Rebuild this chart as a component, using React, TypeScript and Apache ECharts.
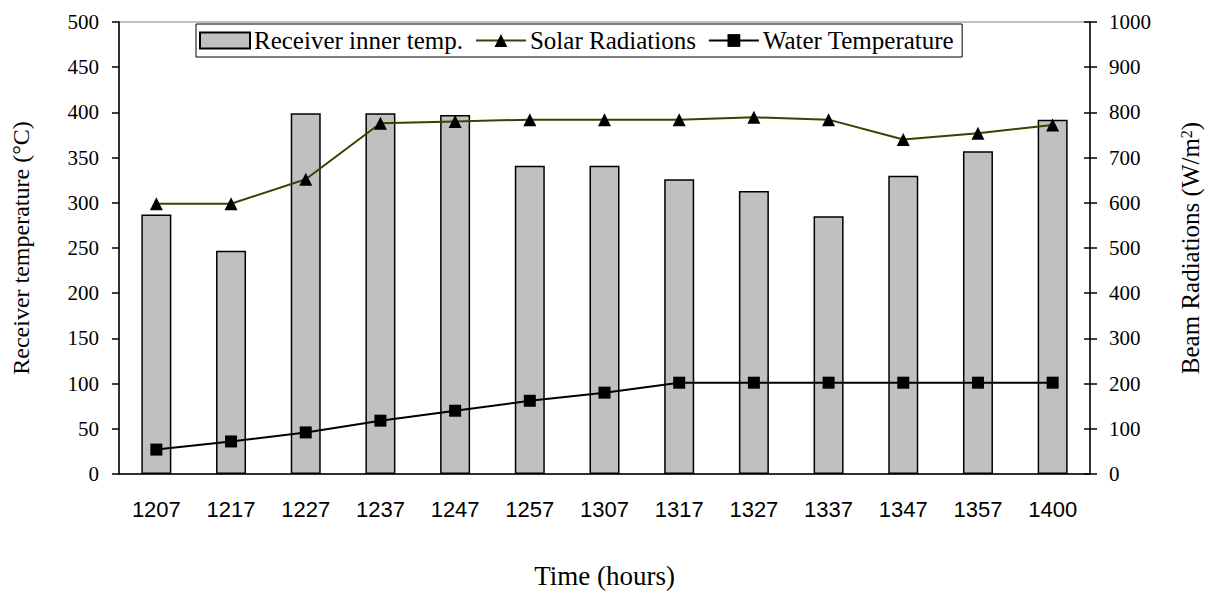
import React, { useEffect, useRef } from "react";
import * as echarts from "echarts";

const categories = ["1207", "1217", "1227", "1237", "1247", "1257", "1307", "1317", "1327", "1337", "1347", "1357", "1400"];
const receiverInnerTemp = [287, 247, 399, 399, 397, 341, 341, 326, 313, 285, 330, 357, 392];
const solarRadiations = [598, 598, 652, 776, 780, 784, 784, 784, 789, 784, 740, 754, 772];
const waterTemperature = [27, 36, 46, 59, 70, 81, 90, 101, 101, 101, 101, 101, 101];

const SERIF = "'Liberation Serif', 'Times New Roman', serif";
const SANS = "'Liberation Sans', Arial, sans-serif";

export default function App() {
  const ref = useRef<HTMLDivElement>(null);
  useEffect(() => {
    if (!ref.current) return;
    const chart = echarts.init(ref.current, null, { renderer: "svg" });
    chart.setOption({
      animation: false,
      backgroundColor: "#fff",
      grid: { left: 119, right: 124, top: 22, bottom: 118, show: true, borderColor: "#808080", borderWidth: 1 },
      legend: {
        left: 196,
        top: 24,
        backgroundColor: "#fff",
        borderColor: "#000",
        borderWidth: 1,
        padding: [4, 8, 4, 3],
        itemGap: 12,
        itemWidth: 50,
        itemHeight: 16,
        textStyle: { fontFamily: SERIF, fontSize: 25, color: "#000", padding: [0, 0, 0, -1] },
        data: [
          { name: "Receiver inner temp.", icon: "rect" },
          { name: "Solar Radiations" },
          { name: "Water Temperature" },
        ],
      },
      xAxis: {
        type: "category",
        data: categories,
        name: "Time (hours)",
        nameLocation: "middle",
        nameGap: 88,
        nameTextStyle: { fontFamily: SERIF, fontSize: 27, color: "#000" },
        axisLine: { lineStyle: { color: "#000", width: 1.5 } },
        axisTick: { length: 8, lineStyle: { color: "#000", width: 1.5 } },
        axisLabel: { fontFamily: SANS, fontSize: 22, color: "#000", margin: 24 },
      },
      yAxis: [
        {
          type: "value",
          min: 0,
          max: 500,
          interval: 50,
          position: "left",
          name: "Receiver temperature (°C)",
          nameLocation: "middle",
          nameGap: 86,
          nameTextStyle: { fontFamily: SERIF, fontSize: 24, color: "#000" },
          splitLine: { show: false },
          axisLine: { show: true, lineStyle: { color: "#000", width: 1.5 } },
          axisTick: { show: true, length: 7, lineStyle: { color: "#000", width: 1.5 } },
          axisLabel: { fontFamily: SERIF, fontSize: 21, color: "#000", margin: 20 },
        },
        {
          type: "value",
          min: 0,
          max: 1000,
          interval: 100,
          position: "right",
          name: "Beam Radiations (W/m{sup|2})",
          nameLocation: "middle",
          nameGap: 88,
          nameRotate: 90,
          nameTextStyle: {
            fontFamily: SERIF,
            fontSize: 25,
            color: "#000",
            rich: { sup: { fontFamily: SERIF, fontSize: 16, color: "#000", verticalAlign: "top" } },
          },
          splitLine: { show: false },
          axisLine: { show: true, lineStyle: { color: "#000", width: 1.5 } },
          axisTick: { show: true, length: 7, lineStyle: { color: "#000", width: 1.5 } },
          axisLabel: { fontFamily: SERIF, fontSize: 21, color: "#000", margin: 19, formatter: (v: number) => String(v) },
        },
        {
          type: "value",
          min: 0,
          max: 1000,
          interval: 100,
          position: "right",
          splitLine: { show: false },
          axisLine: { show: false },
          axisTick: { show: true, inside: true, length: 6, lineStyle: { color: "#000", width: 1.5 } },
          axisLabel: { show: false },
        },
      ],
      series: [
        {
          name: "Receiver inner temp.",
          type: "bar",
          yAxisIndex: 0,
          data: receiverInnerTemp,
          barWidth: 30,
          itemStyle: { color: "#c0c0c0", borderColor: "#000", borderWidth: 1.5 },
        },
        {
          name: "Solar Radiations",
          type: "line",
          yAxisIndex: 1,
          data: solarRadiations,
          symbol: "triangle",
          symbolSize: 13,
          lineStyle: { color: "#3f3f00", width: 2 },
          itemStyle: { color: "#000" },
        },
        {
          name: "Water Temperature",
          type: "line",
          yAxisIndex: 0,
          data: waterTemperature,
          symbol: "rect",
          symbolSize: 12,
          lineStyle: { color: "#000", width: 2 },
          itemStyle: { color: "#000" },
        },
      ],
    });
    return () => chart.dispose();
  }, []);
  return <div ref={ref} style={{ width: 1214, height: 594, position: "absolute", left: 0, top: 0 }} />;
}
